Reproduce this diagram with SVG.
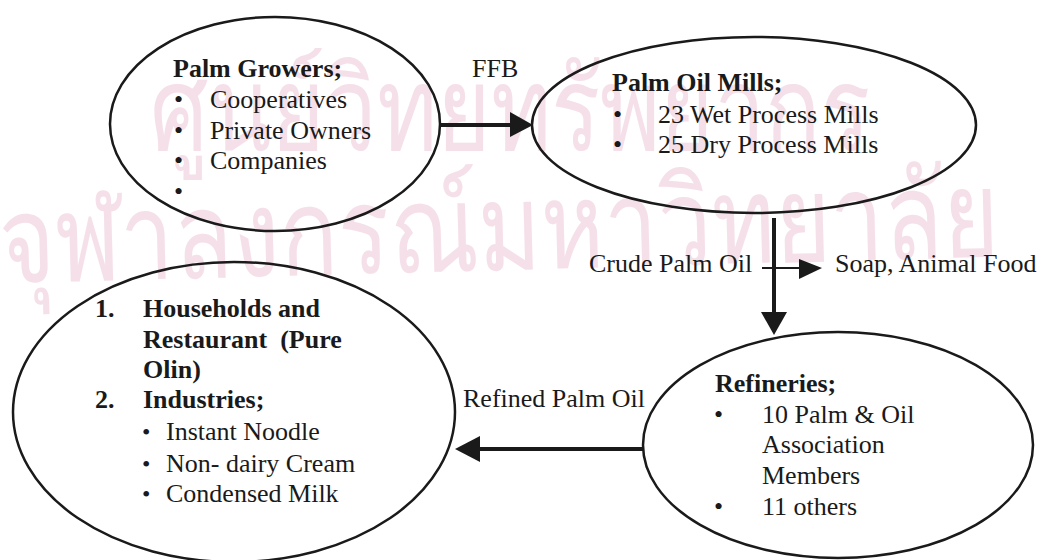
<svg xmlns="http://www.w3.org/2000/svg" width="1049" height="560" viewBox="0 0 1049 560">
<style>
.node{fill:none;stroke:#1a1a1a;stroke-width:2.5}
text{font-family:"Liberation Serif","Times New Roman",serif;font-size:26px;fill:#1a1a1a}
.b{font-weight:bold}
.sb{font-size:24px}
.wm{font-family:"Noto Sans","DejaVu Sans",sans-serif;fill:#f5e0e9}
.wm1{font-size:116px}
.wm2{font-size:122px}
.conn{stroke:#1a1a1a;fill:none}
.ah{fill:#1a1a1a;stroke:none}
</style>
<rect width="1049" height="560" fill="#ffffff"/>
<g id="watermark">
<text class="wm wm1" x="150" y="150" textLength="720" lengthAdjust="spacingAndGlyphs">ศูนย์วิทยทรัพยากร</text>
<text class="wm wm2" x="0" y="270" textLength="1000" lengthAdjust="spacingAndGlyphs" transform="rotate(-1.5 500 268)">จุฬาลงกรณ์มหาวิทยาลัย</text>
</g>
<g id="connectors">
<line class="conn" x1="440" y1="125" x2="512" y2="125" stroke-width="4"/>
<polygon class="ah" points="510,112 533,125 510,137"/>
<line class="conn" x1="774" y1="218" x2="774" y2="314" stroke-width="4"/>
<polygon class="ah" points="761,312 787,312 774,335"/>
<line class="conn" x1="762" y1="268" x2="801" y2="268" stroke-width="2"/>
<polygon class="ah" points="799,259 822,268 799,279"/>
<line class="conn" x1="643" y1="449" x2="478" y2="449" stroke-width="4"/>
<polygon class="ah" points="480,436 455,449 480,462"/>
<text x="472" y="77">FFB</text>
<text x="589" y="272">Crude Palm Oil</text>
<text x="835" y="272">Soap, Animal Food</text>
<text x="463" y="407">Refined Palm Oil</text>
</g>
<g id="palm-growers">
<ellipse class="node" cx="275" cy="124" rx="165" ry="107"/>
<text class="b" x="173" y="77">Palm Growers;</text>
<text x="174" y="108">•</text><text x="210" y="108">Cooperatives</text>
<text x="174" y="139">•</text><text x="210" y="139">Private Owners</text>
<text x="174" y="169">•</text><text x="210" y="169">Companies</text>
<text x="174" y="200">•</text>
</g>
<g id="palm-oil-mills">
<ellipse class="node" cx="754" cy="125" rx="222" ry="88"/>
<text class="b" x="612" y="91">Palm Oil Mills;</text>
<text x="613" y="123">•</text><text x="658" y="123">23 Wet Process Mills</text>
<text x="613" y="153">•</text><text x="658" y="153">25 Dry Process Mills</text>
</g>
<g id="consumers">
<ellipse class="node" cx="234" cy="412" rx="221" ry="150"/>
<text class="b" x="95" y="317">1.</text><text class="b" x="143" y="317">Households and</text>
<text class="b" x="143" y="348" xml:space="preserve">Restaurant  (Pure</text>
<text class="b" x="143" y="378">Olin)</text>
<text class="b" x="95" y="408">2.</text><text class="b" x="143" y="408">Industries;</text>
<text class="sb" x="142" y="440">•</text><text x="166" y="440">Instant Noodle</text>
<text class="sb" x="142" y="472">•</text><text x="166" y="472">Non- dairy Cream</text>
<text class="sb" x="142" y="502">•</text><text x="166" y="502">Condensed Milk</text>
</g>
<g id="refineries">
<ellipse class="node" cx="838" cy="445" rx="195" ry="113"/>
<text class="b" x="715" y="392">Refineries;</text>
<text x="714" y="423">•</text><text x="762" y="423">10 Palm &amp; Oil</text>
<text x="762" y="453">Association</text>
<text x="762" y="484">Members</text>
<text x="714" y="515">•</text><text x="762" y="515">11 others</text>
</g>
</svg>
